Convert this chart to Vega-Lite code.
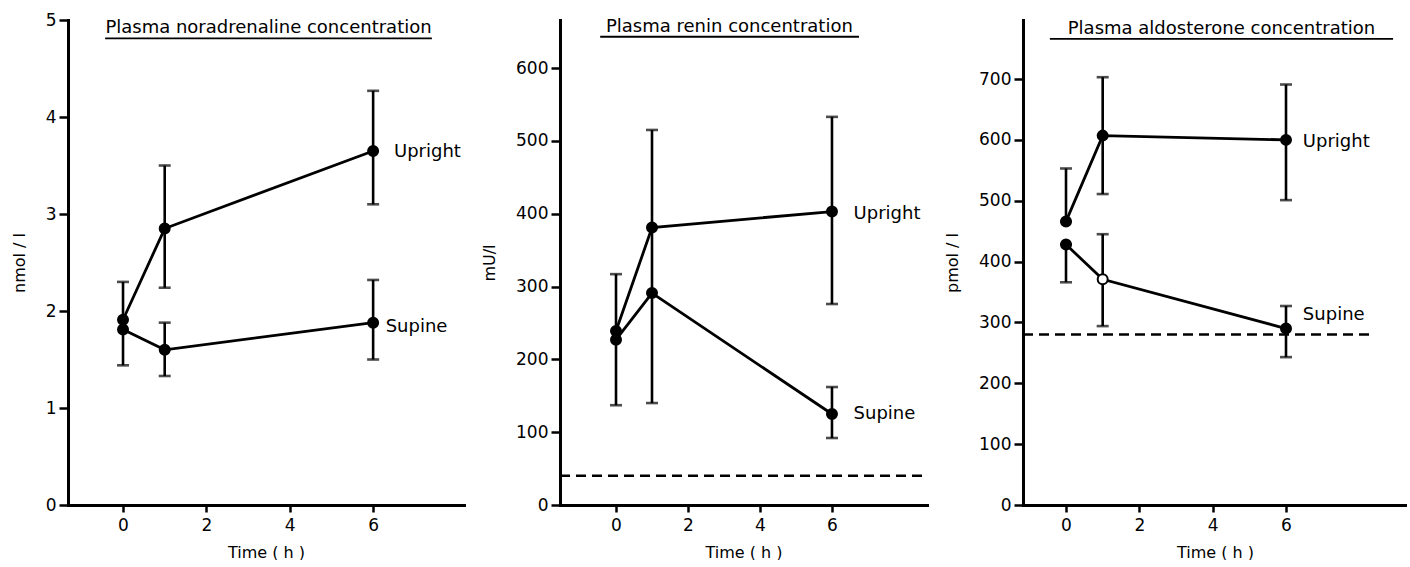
{
  "$schema": "https://vega.github.io/schema/vega-lite/v6.json",
  "background": "white",
  "padding": {"left": 11, "top": 11, "right": 0, "bottom": 0},
  "autosize": {"type": "pad"},
  "bounds": "flush",
  "spacing": 96,
  "config": {
    "view": {"stroke": null},
    "font": "DejaVu Sans"
  },
  "datasets": {
    "pts": [
      {"panel": "NA", "series": "Upright", "t": 0, "y": 1.91, "marker": "filled"},
      {"panel": "NA", "series": "Upright", "t": 1, "y": 2.85, "marker": "filled"},
      {"panel": "NA", "series": "Upright", "t": 6, "y": 3.65, "marker": "filled"},
      {"panel": "NA", "series": "Supine", "t": 0, "y": 1.81, "marker": "filled"},
      {"panel": "NA", "series": "Supine", "t": 1, "y": 1.6, "marker": "filled"},
      {"panel": "NA", "series": "Supine", "t": 6, "y": 1.88, "marker": "filled"},
      {"panel": "RE", "series": "Upright", "t": 0, "y": 239, "marker": "filled"},
      {"panel": "RE", "series": "Upright", "t": 1, "y": 381, "marker": "filled"},
      {"panel": "RE", "series": "Upright", "t": 6, "y": 403, "marker": "filled"},
      {"panel": "RE", "series": "Supine", "t": 0, "y": 227, "marker": "filled"},
      {"panel": "RE", "series": "Supine", "t": 1, "y": 291, "marker": "filled"},
      {"panel": "RE", "series": "Supine", "t": 6, "y": 125, "marker": "filled"},
      {"panel": "AL", "series": "Upright", "t": 0, "y": 466, "marker": "filled"},
      {"panel": "AL", "series": "Upright", "t": 1, "y": 607, "marker": "filled"},
      {"panel": "AL", "series": "Upright", "t": 6, "y": 600, "marker": "filled"},
      {"panel": "AL", "series": "Supine", "t": 0, "y": 428, "marker": "filled"},
      {"panel": "AL", "series": "Supine", "t": 1, "y": 371, "marker": "open"},
      {"panel": "AL", "series": "Supine", "t": 6, "y": 290, "marker": "filled"}
    ],
    "bars": [
      {"panel": "NA", "t": 0, "lo": 1.44, "hi": 2.3},
      {"panel": "NA", "t": 1, "lo": 2.24, "hi": 3.5},
      {"panel": "NA", "t": 1, "lo": 1.33, "hi": 1.88},
      {"panel": "NA", "t": 6, "lo": 3.1, "hi": 4.27},
      {"panel": "NA", "t": 6, "lo": 1.5, "hi": 2.32},
      {"panel": "RE", "t": 0, "lo": 137, "hi": 317},
      {"panel": "RE", "t": 1, "lo": 140, "hi": 515},
      {"panel": "RE", "t": 6, "lo": 276, "hi": 533},
      {"panel": "RE", "t": 6, "lo": 92, "hi": 162},
      {"panel": "AL", "t": 0, "lo": 466, "hi": 553},
      {"panel": "AL", "t": 0, "lo": 366, "hi": 428},
      {"panel": "AL", "t": 1, "lo": 511, "hi": 703},
      {"panel": "AL", "t": 1, "lo": 294, "hi": 445},
      {"panel": "AL", "t": 6, "lo": 501, "hi": 691},
      {"panel": "AL", "t": 6, "lo": 243, "hi": 327}
    ],
    "labels": [
      {"panel": "NA", "kind": "series", "t": 6.5, "y": 3.64, "text": "Upright"},
      {"panel": "NA", "kind": "series", "t": 6.3, "y": 1.83, "text": "Supine"},
      {"panel": "NA", "kind": "title", "t": 3.49, "y": 4.866, "text": "Plasma noradrenaline concentration"},
      {"panel": "RE", "kind": "series", "t": 6.6, "y": 400, "text": "Upright"},
      {"panel": "RE", "kind": "series", "t": 6.6, "y": 125, "text": "Supine"},
      {"panel": "RE", "kind": "title", "t": 3.15, "y": 650, "text": "Plasma renin concentration"},
      {"panel": "AL", "kind": "series", "t": 6.46, "y": 597, "text": "Upright"},
      {"panel": "AL", "kind": "series", "t": 6.46, "y": 312, "text": "Supine"},
      {"panel": "AL", "kind": "title", "t": 4.24, "y": 774, "text": "Plasma aldosterone concentration"}
    ],
    "rules": [
      {"panel": "NA", "kind": "underline", "t": -0.43, "t2": 7.41, "y": 4.81},
      {"panel": "RE", "kind": "underline", "t": -0.44, "t2": 6.75, "y": 643},
      {"panel": "AL", "kind": "underline", "t": -0.44, "t2": 8.92, "y": 766},
      {"panel": "RE", "kind": "ref", "t": -1.556, "t2": 8.64, "y": 40},
      {"panel": "AL", "kind": "ref", "t": -1.173, "t2": 8.4, "y": 280}
    ]
  },
  "hconcat": [
    {
      "width": 396,
      "height": 485,
      "encoding": {
        "x": {"field": "t", "type": "quantitative", "scale": {"domain": [-1.32, 8.18], "nice": false, "zero": false}, "axis": {"values": [0, 2, 4, 6], "title": "Time ( h )", "grid": false, "domainColor": "black", "domainWidth": 3, "domainCap": "square", "ticks": true, "tickColor": "black", "tickWidth": 2.5, "tickSize": 7, "labelFont": "DejaVu Sans", "labelFontSize": 17, "labelColor": "black", "labelPadding": 5, "titleFont": "DejaVu Sans", "titleFontSize": 16, "titleFontWeight": "normal", "titleColor": "black", "titlePadding": 11}},
        "y": {"field": "y", "type": "quantitative", "scale": {"domain": [0, 5], "nice": false, "zero": false}, "axis": {"values": [0, 1, 2, 3, 4, 5], "title": "nmol / l", "grid": false, "domainColor": "black", "domainWidth": 3, "domainCap": "square", "ticks": true, "tickColor": "black", "tickWidth": 2.5, "tickSize": 9, "labelFont": "DejaVu Sans", "labelFontSize": 17, "labelColor": "black", "labelPadding": 3, "titleFont": "DejaVu Sans", "titleFontSize": 16, "titleFontWeight": "normal", "titleColor": "black", "titlePadding": 18}}
      },
      "layer": [
        {"data": {"name": "rules"}, "transform": [{"filter": "datum.panel === 'NA' && datum.kind === 'underline'"}], "mark": {"type": "rule", "color": "black", "strokeWidth": 1.8}, "encoding": {"x2": {"field": "t2"}}},
        {"data": {"name": "pts"}, "transform": [{"filter": "datum.panel === 'NA'"}], "mark": {"type": "line", "color": "black", "strokeWidth": 2.8}, "encoding": {"detail": {"field": "series"}}},
        {"data": {"name": "bars"}, "transform": [{"filter": "datum.panel === 'NA'"}], "mark": {"type": "rule", "color": "black", "strokeWidth": 2.6}, "encoding": {"y": {"field": "lo", "type": "quantitative", "title": "nmol / l"}, "y2": {"field": "hi"}}},
        {"data": {"name": "bars"}, "transform": [{"filter": "datum.panel === 'NA'"}], "mark": {"type": "tick", "orient": "horizontal", "color": "black", "size": 12, "thickness": 2.6}, "encoding": {"y": {"field": "lo", "type": "quantitative", "title": "nmol / l"}}},
        {"data": {"name": "bars"}, "transform": [{"filter": "datum.panel === 'NA'"}], "mark": {"type": "tick", "orient": "horizontal", "color": "black", "size": 12, "thickness": 2.6}, "encoding": {"y": {"field": "hi", "type": "quantitative", "title": "nmol / l"}}},
        {"data": {"name": "pts"}, "transform": [{"filter": "datum.panel === 'NA'"}], "mark": {"type": "point", "filled": true, "size": 100, "stroke": "black", "strokeWidth": 2, "opacity": 1}, "encoding": {"fill": {"field": "marker", "type": "nominal", "scale": {"domain": ["filled", "open"], "range": ["black", "white"]}, "legend": null}}},
        {"data": {"name": "labels"}, "transform": [{"filter": "datum.panel === 'NA' && datum.kind === 'series'"}], "mark": {"type": "text", "align": "left", "baseline": "middle", "fontSize": 18, "color": "black"}, "encoding": {"text": {"field": "text"}}},
        {"data": {"name": "labels"}, "transform": [{"filter": "datum.panel === 'NA' && datum.kind === 'title'"}], "mark": {"type": "text", "align": "center", "baseline": "alphabetic", "fontSize": 18, "color": "black"}, "encoding": {"text": {"field": "text"}}}
      ]
    },
    {
      "width": 367,
      "height": 485,
      "encoding": {
        "x": {"field": "t", "type": "quantitative", "scale": {"domain": [-1.556, 8.64], "nice": false, "zero": false}, "axis": {"values": [0, 2, 4, 6], "title": "Time ( h )", "grid": false, "domainColor": "black", "domainWidth": 3, "domainCap": "square", "ticks": true, "tickColor": "black", "tickWidth": 2.5, "tickSize": 7, "labelFont": "DejaVu Sans", "labelFontSize": 17, "labelColor": "black", "labelPadding": 5, "titleFont": "DejaVu Sans", "titleFontSize": 16, "titleFontWeight": "normal", "titleColor": "black", "titlePadding": 11}},
        "y": {"field": "y", "type": "quantitative", "scale": {"domain": [0, 666], "nice": false, "zero": false}, "axis": {"values": [0, 100, 200, 300, 400, 500, 600], "title": "mU/l", "grid": false, "domainColor": "black", "domainWidth": 3, "domainCap": "square", "ticks": true, "tickColor": "black", "tickWidth": 2.5, "tickSize": 9, "labelFont": "DejaVu Sans", "labelFontSize": 17, "labelColor": "black", "labelPadding": 3, "titleFont": "DejaVu Sans", "titleFontSize": 16, "titleFontWeight": "normal", "titleColor": "black", "titlePadding": 18}}
      },
      "layer": [
        {"data": {"name": "rules"}, "transform": [{"filter": "datum.panel === 'RE' && datum.kind === 'ref'"}], "mark": {"type": "rule", "color": "black", "strokeWidth": 2.5, "strokeDash": [10, 6]}, "encoding": {"x2": {"field": "t2"}}},
        {"data": {"name": "rules"}, "transform": [{"filter": "datum.panel === 'RE' && datum.kind === 'underline'"}], "mark": {"type": "rule", "color": "black", "strokeWidth": 1.8}, "encoding": {"x2": {"field": "t2"}}},
        {"data": {"name": "pts"}, "transform": [{"filter": "datum.panel === 'RE'"}], "mark": {"type": "line", "color": "black", "strokeWidth": 2.8}, "encoding": {"detail": {"field": "series"}}},
        {"data": {"name": "bars"}, "transform": [{"filter": "datum.panel === 'RE'"}], "mark": {"type": "rule", "color": "black", "strokeWidth": 2.6}, "encoding": {"y": {"field": "lo", "type": "quantitative", "title": "mU/l"}, "y2": {"field": "hi"}}},
        {"data": {"name": "bars"}, "transform": [{"filter": "datum.panel === 'RE'"}], "mark": {"type": "tick", "orient": "horizontal", "color": "black", "size": 12, "thickness": 2.6}, "encoding": {"y": {"field": "lo", "type": "quantitative", "title": "mU/l"}}},
        {"data": {"name": "bars"}, "transform": [{"filter": "datum.panel === 'RE'"}], "mark": {"type": "tick", "orient": "horizontal", "color": "black", "size": 12, "thickness": 2.6}, "encoding": {"y": {"field": "hi", "type": "quantitative", "title": "mU/l"}}},
        {"data": {"name": "pts"}, "transform": [{"filter": "datum.panel === 'RE'"}], "mark": {"type": "point", "filled": true, "size": 100, "stroke": "black", "strokeWidth": 2, "opacity": 1}, "encoding": {"fill": {"field": "marker", "type": "nominal", "scale": {"domain": ["filled", "open"], "range": ["black", "white"]}, "legend": null}}},
        {"data": {"name": "labels"}, "transform": [{"filter": "datum.panel === 'RE' && datum.kind === 'series'"}], "mark": {"type": "text", "align": "left", "baseline": "middle", "fontSize": 18, "color": "black"}, "encoding": {"text": {"field": "text"}}},
        {"data": {"name": "labels"}, "transform": [{"filter": "datum.panel === 'RE' && datum.kind === 'title'"}], "mark": {"type": "text", "align": "center", "baseline": "alphabetic", "fontSize": 18, "color": "black"}, "encoding": {"text": {"field": "text"}}}
      ]
    },
    {
      "width": 384,
      "height": 485,
      "encoding": {
        "x": {"field": "t", "type": "quantitative", "scale": {"domain": [-1.173, 9.3], "nice": false, "zero": false}, "axis": {"values": [0, 2, 4, 6], "title": "Time ( h )", "grid": false, "domainColor": "black", "domainWidth": 3, "domainCap": "square", "ticks": true, "tickColor": "black", "tickWidth": 2.5, "tickSize": 7, "labelFont": "DejaVu Sans", "labelFontSize": 17, "labelColor": "black", "labelPadding": 5, "titleFont": "DejaVu Sans", "titleFontSize": 16, "titleFontWeight": "normal", "titleColor": "black", "titlePadding": 11}},
        "y": {"field": "y", "type": "quantitative", "scale": {"domain": [0, 797], "nice": false, "zero": false}, "axis": {"values": [0, 100, 200, 300, 400, 500, 600, 700], "title": "pmol / l", "grid": false, "domainColor": "black", "domainWidth": 3, "domainCap": "square", "ticks": true, "tickColor": "black", "tickWidth": 2.5, "tickSize": 9, "labelFont": "DejaVu Sans", "labelFontSize": 17, "labelColor": "black", "labelPadding": 3, "titleFont": "DejaVu Sans", "titleFontSize": 16, "titleFontWeight": "normal", "titleColor": "black", "titlePadding": 18}}
      },
      "layer": [
        {"data": {"name": "rules"}, "transform": [{"filter": "datum.panel === 'AL' && datum.kind === 'ref'"}], "mark": {"type": "rule", "color": "black", "strokeWidth": 2.5, "strokeDash": [10, 6]}, "encoding": {"x2": {"field": "t2"}}},
        {"data": {"name": "rules"}, "transform": [{"filter": "datum.panel === 'AL' && datum.kind === 'underline'"}], "mark": {"type": "rule", "color": "black", "strokeWidth": 1.8}, "encoding": {"x2": {"field": "t2"}}},
        {"data": {"name": "pts"}, "transform": [{"filter": "datum.panel === 'AL'"}], "mark": {"type": "line", "color": "black", "strokeWidth": 2.8}, "encoding": {"detail": {"field": "series"}}},
        {"data": {"name": "bars"}, "transform": [{"filter": "datum.panel === 'AL'"}], "mark": {"type": "rule", "color": "black", "strokeWidth": 2.6}, "encoding": {"y": {"field": "lo", "type": "quantitative", "title": "pmol / l"}, "y2": {"field": "hi"}}},
        {"data": {"name": "bars"}, "transform": [{"filter": "datum.panel === 'AL'"}], "mark": {"type": "tick", "orient": "horizontal", "color": "black", "size": 12, "thickness": 2.6}, "encoding": {"y": {"field": "lo", "type": "quantitative", "title": "pmol / l"}}},
        {"data": {"name": "bars"}, "transform": [{"filter": "datum.panel === 'AL'"}], "mark": {"type": "tick", "orient": "horizontal", "color": "black", "size": 12, "thickness": 2.6}, "encoding": {"y": {"field": "hi", "type": "quantitative", "title": "pmol / l"}}},
        {"data": {"name": "pts"}, "transform": [{"filter": "datum.panel === 'AL'"}], "mark": {"type": "point", "filled": true, "size": 100, "stroke": "black", "strokeWidth": 2, "opacity": 1}, "encoding": {"fill": {"field": "marker", "type": "nominal", "scale": {"domain": ["filled", "open"], "range": ["black", "white"]}, "legend": null}}},
        {"data": {"name": "labels"}, "transform": [{"filter": "datum.panel === 'AL' && datum.kind === 'series'"}], "mark": {"type": "text", "align": "left", "baseline": "middle", "fontSize": 18, "color": "black"}, "encoding": {"text": {"field": "text"}}},
        {"data": {"name": "labels"}, "transform": [{"filter": "datum.panel === 'AL' && datum.kind === 'title'"}], "mark": {"type": "text", "align": "center", "baseline": "alphabetic", "fontSize": 18, "color": "black"}, "encoding": {"text": {"field": "text"}}}
      ]
    }
  ]
}
